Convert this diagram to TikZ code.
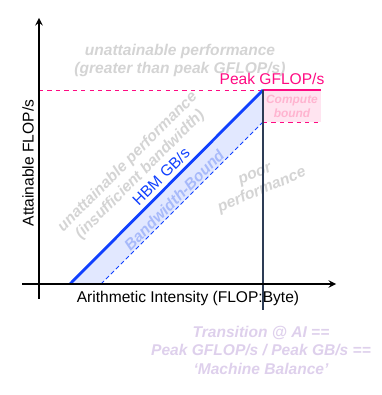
\documentclass[tikz,border=0pt]{standalone}
\usepackage{fontspec}
\setmainfont{Liberation Sans}
\definecolor{peakpink}{RGB}{255,10,130}
\definecolor{computefill}{RGB}{255,228,240}
\definecolor{computetext}{RGB}{255,180,208}
\definecolor{hbmblue}{RGB}{16,64,255}
\definecolor{bandfill}{RGB}{226,232,255}
\definecolor{bandtext}{RGB}{168,186,250}
\definecolor{hinttext}{RGB}{212,212,212}
\definecolor{balancetext}{RGB}{222,208,236}
\definecolor{ridgeline}{RGB}{45,60,85}
\def\labelfont{\fontsize{11.07}{12.6}\selectfont}
\tikzset{
	hint/.style={font=\labelfont\bfseries\itshape, text=hinttext, align=center, inner sep=0pt},
	plain/.style={font=\labelfont, inner sep=0pt}
}

\begin{document}
\begin{tikzpicture}[x=0.25cm, y=0.25cm]
	%%%%% START %%%%%
	\useasboundingbox (-3.9, -11.1) rectangle (34.2, 28.4);
	
	% shaded regions
	\fill[bandfill] (3.1, 0) -- (22.4, 19.4) -- (22.4, 16.2) -- (6.2, 0) -- cycle;
	\fill[computefill] (22.4, 16.2) rectangle (28.2, 19.4);
	
	% region hints
	\node[hint] (above) at (14.1, 22.35) {unattainable performance\\(greater than peak GFLOP/s)};
	\node[hint, rotate=45] (left) at (9.5, 11.55) {unattainable performance\\(insufficient bandwidth)};
	\node[hint, rotate=23] (poor) at (22.0, 10.05) {poor\\performance};
	
	% roofs
	\draw[dashed, peakpink, line width=0.7pt] (0, 19.4) -- (22.4, 19.4);
	\draw[dashed, peakpink, line width=0.7pt] (22.4, 16.2) -- (28.2, 16.2);
	\draw[peakpink, line width=2pt] (22.4, 19.4) -- (28.2, 19.4);
	\draw[densely dashed, hbmblue, line width=0.7pt] (6.2, 0) -- (22.4, 16.2);
	\draw[hbmblue, line width=2pt] (3.1, 0) -- (22.4, 19.4);
	\draw[ridgeline, line width=0.9pt] (22.4, 19.4) -- (22.4, -2.6);
	
	% axes
	\draw[-stealth, line width=1.3pt] (0, -1.5) -- (0, 26.6);
	\draw[-stealth, line width=1.3pt] (-1.7, 0) -- (29.7, 0);
	\node[plain, rotate=90] (ylabel) at (-1.1, 12.1) {Attainable FLOP/s};
	\node[plain] (xlabel) at (14.9, -1.4) {Arithmetic Intensity (FLOP:Byte)};
	
	% labels
	\node[plain, text=peakpink] (peak) at (23.3, 20.5) {Peak GFLOP/s};
	\node[font=\fontsize{8.5}{9.6}\selectfont\bfseries\itshape, text=computetext, align=center, inner sep=0pt] (compute) at (25.3, 17.75) {Compute\\bound};
	\node[plain, text=hbmblue, rotate=45] (hbm) at (12.2, 10.75) {HBM GB/s};
	\node[hint, text=bandtext, rotate=45] (band) at (13.5, 8.4) {Bandwidth-Bound};
	\node[hint, text=balancetext, font=\fontsize{11.07}{13.2}\selectfont\bfseries\itshape] (balance) at (22.2, -6.6) {Transition @ AI ==\\Peak GFLOP/s / Peak GB/s ==\\`Machine Balance'};
	%%%%% END %%%%%
\end{tikzpicture}
\end{document}
